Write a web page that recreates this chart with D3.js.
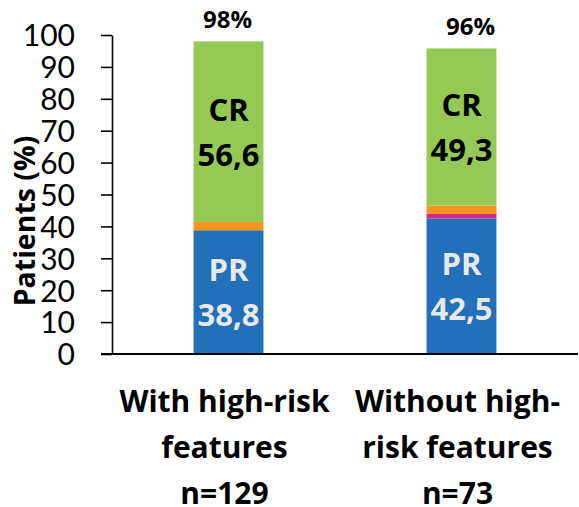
<!DOCTYPE html>
<html>
<head>
<meta charset="utf-8">
<script src="https://cdn.jsdelivr.net/npm/d3@7"></script>
<style>
  html, body { margin: 0; padding: 0; background: #fff; }
  svg { display: block; }
</style>
</head>
<body>
<svg id="chart" width="579" height="507"></svg>
<script>
// Response by group (stacked, % of patients)
const groups = ["With high-risk features", "Without high-risk features"];
const groupLines = [
  ["With high-risk", "features", "n=129"],
  ["Without high-", "risk features", "n=73"]
];
const prValues = [38.8, 42.5];      // partial response
const minorBValues = [0, 1.4];      // small magenta segment
const minorAValues = [2.6, 2.6];    // small orange segment
const crValues = [56.6, 49.3];      // complete response
const totalLabels = ["98%", "96%"];
const yTicks = [0, 10, 20, 30, 40, 50, 60, 70, 80, 90, 100];

const keys = ["PR", "minorB", "minorA", "CR"];
const colors = { PR: "#2170B9", minorB: "#D2288A", minorA: "#F7941E", CR: "#94C955" };

const rows = groups.map((g, i) => ({
  group: g,
  PR: prValues[i],
  minorB: minorBValues[i],
  minorA: minorAValues[i],
  CR: crValues[i]
}));

const svg = d3.select("#chart");
const x0 = 112, x1 = 578, yTop = 35, yBottom = 354;
const boldFont = "'Open Sans', Lato, sans-serif";
const tickFont = "Lato, 'Open Sans', sans-serif";

const x = d3.scaleBand().domain(groups).range([x0, x1])
  .paddingInner(0.7).paddingOuter(0.35);
const y = d3.scaleLinear().domain([0, 100]).range([yBottom, yTop]);

const series = d3.stack().keys(keys)(rows);

// stacked bars
svg.append("g").selectAll("g")
  .data(series).join("g")
  .attr("fill", d => colors[d.key])
  .selectAll("rect")
  .data(d => d.map(v => ({ v, group: v.data.group })))
  .join("rect")
  .attr("x", d => x(d.group))
  .attr("width", x.bandwidth())
  .attr("y", d => y(d.v[1]))
  .attr("height", d => y(d.v[0]) - y(d.v[1]));

// y axis
const yAxis = d3.axisLeft(y).tickValues(yTicks).tickSize(11).tickPadding(26).tickSizeOuter(0);
const gy = svg.append("g").attr("transform", `translate(${x0},0)`).call(yAxis);
gy.select(".domain").attr("stroke", "#000").attr("stroke-width", 1.6);
gy.selectAll(".tick line").attr("stroke", "#000").attr("stroke-width", 1.6);
gy.selectAll(".tick text")
  .attr("fill", "#000")
  .style("font-family", tickFont)
  .style("font-size", "30px")
  .attr("dy", "0.36em");

// baseline
svg.append("line")
  .attr("x1", 101).attr("x2", x1)
  .attr("y1", y(0)).attr("y2", y(0))
  .attr("stroke", "#000").attr("stroke-width", 2.2);

// y axis title
svg.append("text")
  .attr("transform", "translate(35,221) rotate(-90)")
  .attr("text-anchor", "middle")
  .style("font-family", boldFont)
  .style("font-weight", "bold")
  .style("font-size", "28.5px")
  .attr("fill", "#000")
  .text("Patients (%)");

// segment labels (two lines, centred on the segment)
function segLabel(key, name, values, color) {
  const s = series.find(d => d.key === key);
  s.forEach((v, i) => {
    const cx = x(groups[i]) + x.bandwidth() / 2;
    const cy = (y(v[0]) + y(v[1])) / 2;
    const t = svg.append("text")
      .attr("text-anchor", "middle")
      .attr("fill", color)
      .style("font-family", boldFont)
      .style("font-weight", "bold")
      .style("font-size", "31px");
    t.append("tspan").attr("x", cx).attr("y", cy - 22).attr("dy", "0.36em").text(name);
    t.append("tspan").attr("x", cx).attr("y", cy + 23).attr("dy", "0.36em")
      .text(d3.format(".1f")(values[i]).replace(".", ","));
  });
}
segLabel("CR", "CR", crValues, "#000");
segLabel("PR", "PR", prValues, "#E8E8E8");

// totals above bars
const topSeries = series[series.length - 1];
topSeries.forEach((v, i) => {
  svg.append("text")
    .attr("x", x(groups[i]) + x.bandwidth() / 2 + (i === 1 ? 9 : -1))
    .attr("y", y(v[1]) - 13)
    .attr("text-anchor", "middle")
    .style("font-family", boldFont)
    .style("font-weight", "bold")
    .style("font-size", "24px")
    .attr("fill", "#000")
    .text(totalLabels[i]);
});

// category labels
groupLines.forEach((lines, i) => {
  const cx = x(groups[i]) + x.bandwidth() / 2 - 4;
  const t = svg.append("text")
    .attr("text-anchor", "middle")
    .style("font-family", boldFont)
    .style("font-weight", "bold")
    .style("font-size", "30px")
    .attr("fill", "#000");
  lines.forEach((ln, j) => {
    t.append("tspan").attr("x", cx).attr("y", 412 + j * 46).text(ln);
  });
});
</script>
</body>
</html>
